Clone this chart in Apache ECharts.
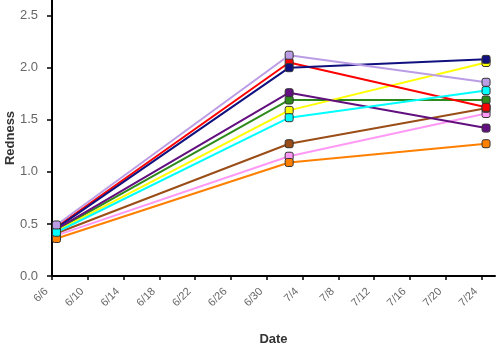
<!DOCTYPE html>
<html><head><meta charset="utf-8">
<script src="https://cdn.jsdelivr.net/npm/echarts@6/dist/echarts.min.js"></script>
<style>html,body{margin:0;padding:0;background:#fff}#c{width:499px;height:350px}</style>
</head><body><div id="c"></div>
<script>
// Sample dates (measurements drawn at midday)
const sampleDates = ['6/6', '7/2', '7/24'];
const tickLabels = ['6/6','6/10','6/14','6/18','6/22','6/26','6/30','7/4','7/8','7/12','7/16','7/20','7/24'];
const yTicks = [0, 0.5, 1.0, 1.5, 2.0, 2.5];

const orange   = [0.36, 1.09, 1.27];
const pink     = [0.39, 1.15, 1.56];
const brown    = [0.41, 1.27, 1.61];
const green    = [0.44, 1.69, 1.69];
const yellow   = [0.43, 1.59, 2.05];
const red      = [0.47, 2.05, 1.62];
const navy     = [0.46, 2.00, 2.08];
const purple   = [0.45, 1.76, 1.42];
const cyan     = [0.42, 1.52, 1.78];
const lavender = [0.49, 2.12, 1.86];

const seriesDefs = [
  ['pink', pink, '#ff99f5'],
  ['brown', brown, '#9a4d17'],
  ['orange', orange, '#ff8000'],
  ['green', green, '#2f8a1c'],
  ['yellow', yellow, '#ffff00'],
  ['red', red, '#ff0000'],
  ['navy', navy, '#10107f'],
  ['purple', purple, '#62107f'],
  ['cyan', cyan, '#00ffff'],
  ['lavender', lavender, '#bb9de6']
];

function dayOffset(md) {
  const [m, d] = md.split('/').map(Number);
  const t = Date.UTC(2010, m - 1, d);
  const t0 = Date.UTC(2010, 5, 6);
  return (t - t0) / 86400000;
}
function fmt(v) {
  const t = new Date(Date.UTC(2010, 5, 6) + Math.round(v) * 86400000);
  return (t.getUTCMonth() + 1) + '/' + t.getUTCDate();
}
const xVals = sampleDates.map(d => dayOffset(d) + 0.5);
const xTicks = tickLabels.map(dayOffset);

const chart = echarts.init(document.getElementById('c'));
chart.setOption({
  animation: false,
  backgroundColor: '#fff',
  grid: { left: 52, right: 4, top: 0, bottom: 74, containLabel: false, outerBoundsMode: 'none' },
  xAxis: {
    type: 'value', min: 0, max: 49.5,
    name: 'Date', nameLocation: 'middle', nameGap: 57, nameMoveOverlap: false,
    nameTextStyle: { fontFamily: 'Liberation Sans, Arial', fontWeight: 'bold', fontSize: 13, color: '#333' },
    axisLine: { show: true, onZero: false, lineStyle: { color: '#000', width: 2 } },
    axisTick: { show: true, length: 4, customValues: xTicks, lineStyle: { color: '#000', width: 1.5 } },
    axisLabel: { customValues: xTicks, rotate: 45, fontSize: 11, color: '#666', margin: 8,
      padding: [0, 8, 0, 0],
      fontFamily: 'Liberation Sans, Arial', formatter: v => fmt(v) },
    splitLine: { show: false }
  },
  yAxis: {
    type: 'value', min: 0, max: 2.65,
    name: 'Redness', nameLocation: 'middle', nameGap: 35, nameRotate: 90, nameMoveOverlap: false,
    nameTextStyle: { fontFamily: 'Liberation Sans, Arial', fontWeight: 'bold', fontSize: 13, color: '#333' },
    axisLine: { show: true, onZero: false, lineStyle: { color: '#000', width: 2 } },
    axisTick: { show: true, length: 5, customValues: yTicks, lineStyle: { color: '#000', width: 1.5 } },
    axisLabel: { customValues: yTicks, fontSize: 13, color: '#666', margin: 14,
      fontFamily: 'Liberation Sans, Arial', formatter: v => v.toFixed(1) },
    splitLine: { show: false }
  },
  series: seriesDefs.map(([name, vals, color]) => ({
    name, type: 'line',
    data: vals.map((v, i) => [xVals[i], v]),
    symbol: 'roundRect', symbolSize: 8, showSymbol: true,
    lineStyle: { color, width: 2 },
    itemStyle: { color, borderColor: '#333', borderWidth: 1 }
  }))
});
</script></body></html>
